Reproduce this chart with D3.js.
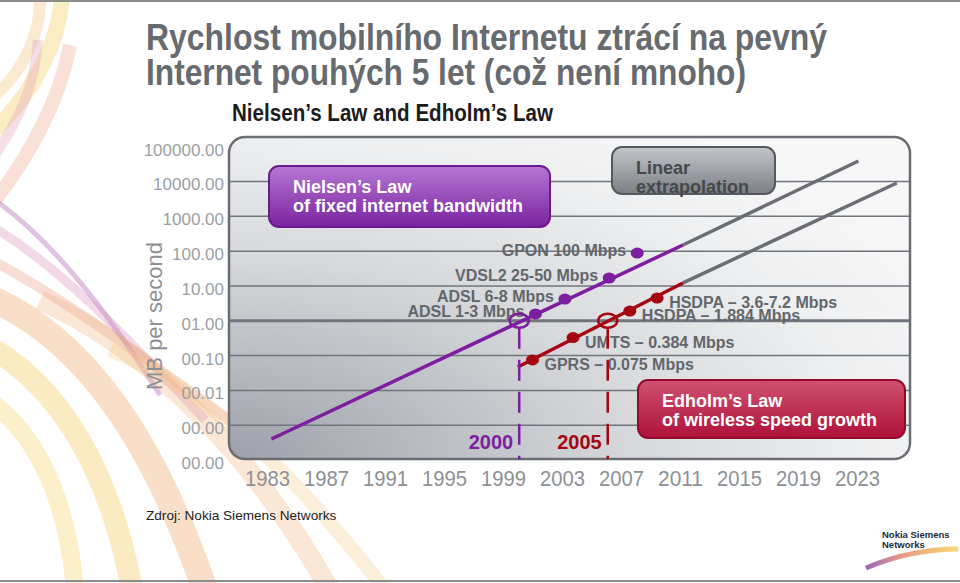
<!DOCTYPE html>
<html>
<head>
<meta charset="utf-8">
<script src="https://cdn.jsdelivr.net/npm/d3@7"></script>
<style>
  html, body { margin:0; padding:0; background:#fff; }
  svg { display:block; font-family:"Liberation Sans", Arial, sans-serif; }
</style>
</head>
<body>
<script>
// tick labels
var tickYears = [1983, 1987, 1991, 1995, 1999, 2003, 2007, 2011, 2015, 2019, 2023];
var tickMbps = [100000, 10000, 1000, 100, 10, 1, 0.1, 0.01, 0.001, 0.0001];

// Nielsen's law (fixed) and Edholm's law (wireless)
var nielsenYears = [1983.3, 2011.2];
var nielsenMbps = [0.0004, 150];
var nielsenExtYears = [2011.2, 2023.1];
var nielsenExtMbps = [150, 38800];
var edholmYears = [2000.0, 2011.2];
var edholmMbps = [0.047, 12.2];
var edholmExtYears = [2011.2, 2025.7];
var edholmExtMbps = [12.2, 9070];

var fixedTech = ['ADSL 1-3 Mbps', 'ADSL 6-8 Mbps', 'VDSL2 25-50 Mbps', 'GPON 100 Mbps'];
var fixedYears = [2001.2, 2003.2, 2006.2, 2008.1];
var fixedMbps = [1.57, 4.2, 16.9, 88];

var wirelessTech = ['GPRS \u2013 0.075 Mbps', 'UMTS \u2013 0.384 Mbps', 'HSDPA \u2013 1.884 Mbps', 'HSDPA \u2013 3.6-7.2 Mbps'];
var wirelessYears = [2001.0, 2003.75, 2007.6, 2009.45];
var wirelessMbps = [0.075, 0.33, 1.9, 4.5];

// 1 Mbps reached: fixed vs wireless
var crossLabels = ['2000', '2005'];
var crossYears = [2000.1, 2006.1];
var crossMbps = [1, 1];

var W = 960, H = 583;
var PURPLE = '#7d1ea0', RED = '#a5060f', GREY = '#6b6f75';
var NARROW = '"Liberation Sans Narrow", "Arial Narrow", "Liberation Sans", sans-serif';
var box = {x0:229, x1:910, y0:137, y1:459};

var svg = d3.select('body').append('svg')
  .attr('width', W).attr('height', H);
var defs = svg.append('defs');

function grad(id, x1, y1, x2, y2, stops) {
  var g = defs.append('linearGradient').attr('id', id)
    .attr('x1', x1).attr('y1', y1).attr('x2', x2).attr('y2', y2);
  stops.forEach(function (s) {
    g.append('stop').attr('offset', s[0]).attr('stop-color', s[1]);
  });
}
grad('gPurple', 0, 0, 0, 1, [[0, '#b677d4'], [1, '#7a239f']]);
grad('gGrey', 0, 0, 0, 1, [[0, '#c3c6ca'], [1, '#7b7f85']]);
grad('gRed', 0, 0, 0, 1, [[0, '#d05270'], [1, '#ae113a']]);
grad('gLogo', 0, 0, 1, 0, [[0, '#8a4fb0'], [0.4, '#e48a6a'], [1, '#f6d35a']]);

// plot background: darkest in the lower left corner
var rg = defs.append('radialGradient').attr('id', 'gBox')
  .attr('gradientUnits', 'userSpaceOnUse')
  .attr('cx', box.x0).attr('cy', box.y1).attr('r', 800)
  .attr('gradientTransform', 'translate(' + box.x0 + ',' + box.y1 + ') scale(1,0.5) translate(' + (-box.x0) + ',' + (-box.y1) + ')');
[[0, '#9da0a9'], [0.25, '#b9bcc2'], [0.5, '#d6d8db'], [0.8, '#eeeff0'], [1, '#f7f7f8']].forEach(function (s) {
  rg.append('stop').attr('offset', s[0]).attr('stop-color', s[1]);
});

// slide background swooshes
var swoosh = svg.append('g').attr('fill', 'none');
var swooshPaths = [
  ['M 62 -5 C 60 40, 35 90, -5 130', '#f6d77a', 16, 0.45],
  ['M 40 -5 C 42 35, 20 75, -5 95', '#f3c47e', 12, 0.35],
  ['M 70 45 C 60 100, 30 155, -5 200', '#eea890', 14, 0.35],
  ['M 38 40 C 35 90, 15 125, -5 155', '#e3a0b8', 10, 0.35],
  ['M -5 200 C 50 240, 100 300, 160 395', '#a552b0', 5, 0.35],
  ['M -5 228 C 60 268, 120 330, 205 420', '#d382b0', 9, 0.3],
  ['M -5 262 C 70 302, 150 362, 245 432', '#e9927a', 10, 0.3],
  ['M -5 300 C 80 340, 150 430, 205 590', '#f1a262', 26, 0.35],
  ['M -5 350 C 60 390, 110 470, 132 590', '#f5cd6a', 22, 0.4],
  ['M -5 405 C 40 440, 68 505, 75 590', '#f7da7c', 18, 0.4],
  ['M 40 300 C 150 350, 250 450, 330 590', '#f0ae78', 20, 0.3],
  ['M 110 350 C 210 390, 300 480, 385 590', '#f5c983', 14, 0.3]
];
swooshPaths.forEach(function (p) {
  swoosh.append('path').attr('d', p[0]).attr('stroke', p[1])
    .attr('stroke-width', p[2]).attr('opacity', p[3]);
});

// slide edges
svg.append('line').attr('x1', 0).attr('x2', W).attr('y1', 1).attr('y2', 1)
  .attr('stroke', '#8c8c8c').attr('stroke-width', 2);
svg.append('line').attr('x1', 0).attr('x2', W).attr('y1', 581).attr('y2', 581)
  .attr('stroke', '#8c8c8c').attr('stroke-width', 2);

// titles
var title = svg.append('text').attr('font-family', NARROW)
  .attr('font-size', 36).attr('font-weight', 'bold').attr('fill', '#676b70');
title.append('tspan').attr('x', 146).attr('y', 50)
  .attr('textLength', 681).attr('lengthAdjust', 'spacingAndGlyphs')
  .text('Rychlost mobilního Internetu ztrácí na pevný');
title.append('tspan').attr('x', 146).attr('y', 85)
  .attr('textLength', 600).attr('lengthAdjust', 'spacingAndGlyphs')
  .text('Internet pouhých 5 let (což není mnoho)');

svg.append('text').attr('x', 232).attr('y', 121)
  .attr('font-family', NARROW)
  .attr('font-size', 23).attr('font-weight', 'bold').attr('fill', '#1c1c1c')
  .attr('textLength', 321).attr('lengthAdjust', 'spacingAndGlyphs')
  .text('Nielsen\u2019s Law and Edholm\u2019s Law');

svg.append('text').attr('x', 146).attr('y', 520)
  .attr('font-size', 13.6).attr('fill', '#222')
  .text('Zdroj: Nokia Siemens Networks');

// scales
var x = d3.scaleLinear().domain([1983, 2023]).range([267, 857]);
var y = d3.scaleLog().domain([0.0001, 100000]).range([460, 146.7]);

function fmt(v) {
  var s = v.toFixed(2);
  return v < 10 ? '0' + s : s;
}

// plot box
svg.append('rect')
  .attr('x', box.x0).attr('y', box.y0)
  .attr('width', box.x1 - box.x0).attr('height', box.y1 - box.y0)
  .attr('rx', 16).attr('ry', 16)
  .attr('fill', 'url(#gBox)');

svg.append('g').selectAll('line')
  .data(tickMbps.filter(function (t) { return t < 100000 && t > 0.0001; }))
  .enter().append('line')
  .attr('x1', box.x0).attr('x2', box.x1)
  .attr('y1', function (d) { return y(d); })
  .attr('y2', function (d) { return y(d); })
  .attr('stroke', '#71767c')
  .attr('stroke-width', function (d) { return d === 1 ? 3 : 1.5; });

svg.append('rect')
  .attr('x', box.x0).attr('y', box.y0)
  .attr('width', box.x1 - box.x0).attr('height', box.y1 - box.y0)
  .attr('rx', 16).attr('ry', 16)
  .attr('fill', 'none').attr('stroke', '#6a6e73').attr('stroke-width', 2.5);

// axes (labels only)
var yAxis = d3.axisLeft(y).tickValues(tickMbps).tickFormat(fmt).tickSize(0).tickPadding(0);
var gy = svg.append('g').attr('transform', 'translate(224,3)').call(yAxis);
gy.select('.domain').remove();
gy.selectAll('text').attr('font-size', 17).attr('fill', '#9b9fa4')
  .attr('font-family', '"Liberation Sans", Arial, sans-serif');

var xAxis = d3.axisBottom(x).tickValues(tickYears).tickFormat(d3.format('d')).tickSize(0).tickPadding(0);
var gx = svg.append('g').attr('transform', 'translate(0,470)').call(xAxis);
gx.select('.domain').remove();
gx.selectAll('text').attr('font-size', 22).attr('fill', '#8d9196')
  .attr('font-family', NARROW)
  .attr('textLength', 45).attr('lengthAdjust', 'spacingAndGlyphs');

svg.append('text')
  .attr('transform', 'translate(162,316) rotate(-90)')
  .attr('text-anchor', 'middle').attr('font-size', 22).attr('fill', '#8c9096')
  .text('MB per second');

// label boxes
function labelBox(x0, y0, w, h, fill, stroke, color, lines) {
  svg.append('rect').attr('x', x0).attr('y', y0).attr('width', w).attr('height', h)
    .attr('rx', 10).attr('ry', 10)
    .attr('fill', fill).attr('stroke', stroke).attr('stroke-width', 2);
  var t = svg.append('text').attr('font-size', 18).attr('font-weight', 'bold').attr('fill', color);
  lines.forEach(function (l, i) {
    t.append('tspan').attr('x', x0 + 24).attr('y', y0 + 27 + i * 18.5).text(l);
  });
}
labelBox(269, 166, 281, 61, 'url(#gPurple)', '#6b1a8e', '#fff',
  ['Nielsen\u2019s Law', 'of fixed internet bandwidth']);
labelBox(612, 147, 163, 47, 'url(#gGrey)', '#55595e', '#44484d',
  ['Linear', 'extrapolation']);
labelBox(638, 380, 267, 58, 'url(#gRed)', '#930a2d', '#fff',
  ['Edholm\u2019s Law', 'of wireless speed growth']);

// lines
var line = d3.line()
  .x(function (d) { return x(d[0]); })
  .y(function (d) { return y(d[1]); });
function series(ys, vs, color) {
  svg.append('path').datum(d3.zip(ys, vs)).attr('d', line)
    .attr('fill', 'none').attr('stroke', color).attr('stroke-width', 3.5);
}
series(nielsenExtYears, nielsenExtMbps, GREY);
series(edholmExtYears, edholmExtMbps, GREY);
series(nielsenYears, nielsenMbps, PURPLE);
series(edholmYears, edholmMbps, RED);

// technology labels
var labelStyle = function (sel) {
  sel.attr('font-size', 16).attr('font-weight', 'bold').attr('fill', '#62676d');
};
svg.append('g').selectAll('text').data(d3.range(fixedTech.length)).enter()
  .append('text').call(labelStyle)
  .attr('text-anchor', 'end')
  .attr('x', function (i) { return x(fixedYears[i]) - 11; })
  .attr('y', function (i) { return y(fixedMbps[i]) + 3; })
  .text(function (i) { return fixedTech[i]; });
svg.append('g').selectAll('text').data(d3.range(wirelessTech.length)).enter()
  .append('text').call(labelStyle)
  .attr('x', function (i) { return x(wirelessYears[i]) + 12; })
  .attr('y', function (i) { return y(wirelessMbps[i]) + 10; })
  .text(function (i) { return wirelessTech[i]; });

// dots
function dots(ys, vs, color) {
  svg.append('g').selectAll('ellipse').data(d3.zip(ys, vs)).enter()
    .append('ellipse')
    .attr('cx', function (d) { return x(d[0]); })
    .attr('cy', function (d) { return y(d[1]); })
    .attr('rx', 6.5).attr('ry', 5.5).attr('fill', color);
}
dots(fixedYears, fixedMbps, PURPLE);
dots(wirelessYears, wirelessMbps, RED);

// 1 Mbps markers with dashed drop lines
var crossColors = [PURPLE, RED];
crossYears.forEach(function (yr, i) {
  var cx = x(yr), cy = y(crossMbps[i]);
  svg.append('line').attr('x1', cx).attr('x2', cx)
    .attr('y1', cy + 7).attr('y2', box.y1)
    .attr('stroke', crossColors[i]).attr('stroke-width', 2.5)
    .attr('stroke-dasharray', '21,11');
  svg.append('ellipse').attr('cx', cx).attr('cy', cy)
    .attr('rx', 9.5).attr('ry', 7)
    .attr('fill', 'none').attr('stroke', crossColors[i]).attr('stroke-width', 2.5);
  svg.append('text').attr('x', cx - 6).attr('y', 449)
    .attr('text-anchor', 'end').attr('font-size', 20).attr('font-weight', 'bold')
    .attr('fill', crossColors[i]).text(crossLabels[i]);
});

// logo
svg.append('text').attr('x', 882).attr('y', 538)
  .attr('font-size', 9.5).attr('font-weight', 'bold').attr('fill', '#1e2838')
  .selectAll('tspan').data(['Nokia Siemens', 'Networks']).enter()
  .append('tspan').attr('x', 882).attr('dy', function (d, i) { return i ? 10 : 0; })
  .text(function (d) { return d; });
svg.append('path').attr('d', 'M 866 568 C 892 557, 922 549, 958 549')
  .attr('fill', 'none').attr('stroke', 'url(#gLogo)').attr('stroke-width', 5)
  .attr('opacity', 0.85);
</script>
</body>
</html>
